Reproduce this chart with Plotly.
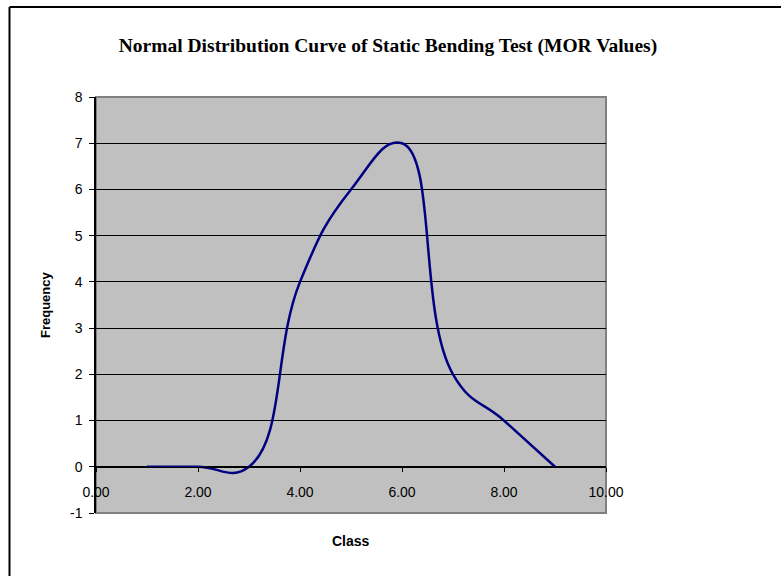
import plotly.graph_objects as go

classes = [1, 2, 3, 4, 5, 6, 7, 8, 9]
frequency = [0, 0, 0, 4, 6, 7, 2, 1, 0]

x_ticks = [0, 2, 4, 6, 8, 10]
x_labels = ["0.00", "2.00", "4.00", "6.00", "8.00", "10.00"]
y_ticks = [-1, 0, 1, 2, 3, 4, 5, 6, 7, 8]
y_labels = ["-1", "0", "1", "2", "3", "4", "5", "6", "7", "8"]

W, H = 781, 576
L, R, T, B = 96, 175, 97, 63
pw, ph = W - L - R, H - T - B

def px(x):
    return (x - L) / pw

def py(y):
    return (H - B - y) / ph

fig = go.Figure()
fig.add_trace(go.Scatter(
    x=classes, y=frequency, mode="lines",
    line=dict(color="#000080", width=2.5, shape="spline", smoothing=1.3),
    showlegend=False, hoverinfo="skip",
))

fig.update_layout(
    width=W, height=H,
    margin=dict(l=L, r=R, t=T, b=B),
    paper_bgcolor="white",
    plot_bgcolor="#C0C0C0",
    font=dict(family="Liberation Sans, Arial", size=14, color="black"),
    title=dict(
        text="<b>Normal Distribution Curve of Static Bending Test (MOR Values)</b>",
        font=dict(family="Liberation Serif, Times New Roman", size=19.5, color="black"),
        x=388 / W, xanchor="center", y=1 - 45 / H, yanchor="middle",
    ),
    xaxis=dict(
        range=[0, 10], tickvals=x_ticks, ticktext=x_labels,
        showgrid=False, zeroline=False,
        showline=True, linecolor="black", linewidth=1,
        ticks="outside", ticklen=4, tickcolor="black",
        anchor="free", position=1 / 9,
        ticklabelstandoff=8,
        tickfont=dict(size=14),
    ),
    yaxis=dict(
        range=[-1, 8], tickvals=y_ticks, ticktext=y_labels,
        showgrid=True, gridcolor="black", gridwidth=1,
        zeroline=False,
        showline=True, linecolor="black", linewidth=1.5,
        ticks="outside", ticklen=5, tickcolor="black",
        ticklabelstandoff=4,
        tickfont=dict(size=14),
    ),
    shapes=[
        dict(type="rect", xref="paper", yref="paper", x0=0, x1=1, y0=0, y1=1,
             line=dict(color="#808080", width=2), layer="below"),
        dict(type="line", xref="paper", yref="paper",
             x0=px(9.5), x1=px(W + 10), y0=py(7), y1=py(7),
             line=dict(color="black", width=2)),
        dict(type="line", xref="paper", yref="paper",
             x0=px(9.5), x1=px(9.5), y0=py(7), y1=py(H + 10),
             line=dict(color="black", width=2)),
    ],
    annotations=[
        dict(text="<b>Frequency</b>", xref="paper", yref="paper",
             x=px(45), y=py(305), textangle=-90, showarrow=False,
             font=dict(size=13), xanchor="center", yanchor="middle"),
        dict(text="<b>Class</b>", xref="paper", yref="paper",
             x=px(351), y=py(541), showarrow=False,
             font=dict(size=14), xanchor="center", yanchor="middle"),
    ],
)

fig.write_html("out.html")
